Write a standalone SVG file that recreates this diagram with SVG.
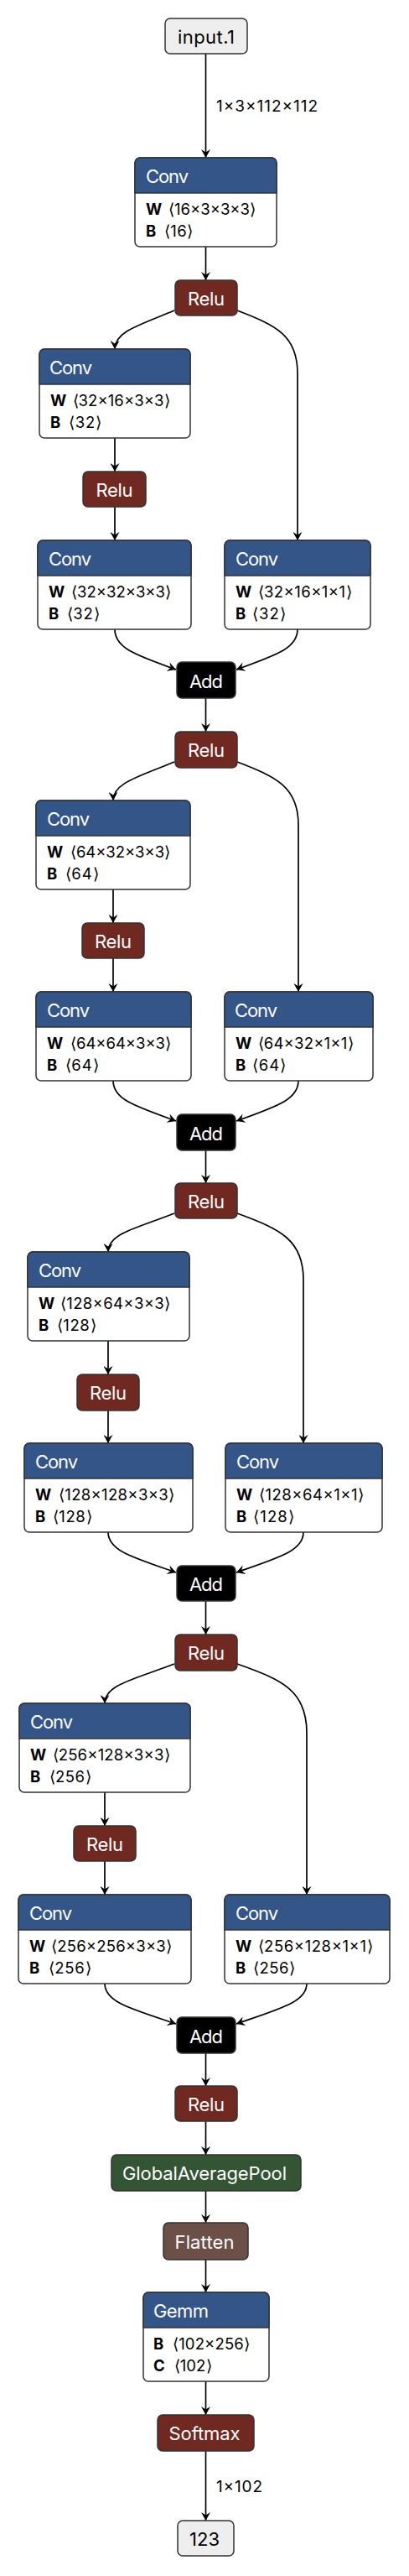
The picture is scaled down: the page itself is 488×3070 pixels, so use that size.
<svg xmlns="http://www.w3.org/2000/svg" width="488" height="3070" viewBox="0 0 488 3070">
<style>
.nb{fill:#fff;stroke:#333;stroke-width:1.5}
.io{fill:#eee;stroke:#333;stroke-width:1.5}
.conv{fill:#335588;stroke:#333;stroke-width:1.5}
.act{fill:#702921;stroke:#333;stroke-width:1.5}
.add{fill:#000;stroke:#333;stroke-width:1.5}
.pool{fill:#335533;stroke:#333;stroke-width:1.5}
.shape{fill:#6c4f47;stroke:#333;stroke-width:1.5}
text{font-family:Inter,"Liberation Sans",sans-serif}
.t{font-size:22px;fill:#fff}
.tc{font-size:22px;fill:#fff;text-anchor:middle}
.tk{font-size:22px;fill:#000;text-anchor:middle}
.n{font-size:18.5px;fill:#000;font-weight:bold}
.v{font-size:18.5px;fill:#000}
.e{font-size:19px;fill:#000}
.edges path{fill:none;stroke:#000;stroke-width:1.7;marker-end:url(#arr)}
</style>
<defs>
<marker id="arr" viewBox="0 0 10 11" refX="10" refY="5.5" markerWidth="10" markerHeight="11" markerUnits="userSpaceOnUse" orient="auto">
<path d="M0,0 L10,5.5 L0,11 L3.5,5.5 z" fill="#000"/>
</marker>
</defs>
<rect width="488" height="3070" fill="#fff"/>
<g class="edges">
<path d="M245.5,64 V188"/>
<path d="M245.5,294 V334"/>
<path d="M208,370 C165,388 137,395 137,416"/>
<path d="M283,370 C330,388 355,400 355,445 V644"/>
<path d="M137,522 V562"/>
<path d="M137,604 V644"/>
<path d="M137,750 C137,772 160,780 210,798"/>
<path d="M355,750 C355,772 332,780 282,798"/>
<path d="M245.5,832 V872"/>
<path d="M208,908 C165,926 135,933 135,954"/>
<path d="M283,908 C330,926 356,938 356,983 V1182"/>
<path d="M135,1060 V1100"/>
<path d="M135,1142 V1182"/>
<path d="M135,1288 C135,1310 160,1318 210,1336"/>
<path d="M356,1288 C356,1310 332,1318 282,1336"/>
<path d="M245.5,1371 V1410"/>
<path d="M208,1446 C160,1465 129,1470 129,1492"/>
<path d="M283,1446 C335,1465 362,1478 362,1525 V1720"/>
<path d="M129,1598 V1638"/>
<path d="M129,1681 V1720"/>
<path d="M129,1826 C129,1848 158,1856 210,1874"/>
<path d="M362,1826 C362,1848 334,1856 282,1874"/>
<path d="M245.5,1908 V1948"/>
<path d="M208,1983 C158,2002 125,2008 125,2030"/>
<path d="M283,1983 C337,2002 366,2015 366,2065 V2258"/>
<path d="M125,2136 V2176"/>
<path d="M125,2218 V2258"/>
<path d="M125,2364 C125,2386 156,2394 210,2412"/>
<path d="M366,2364 C366,2386 334,2394 282,2412"/>
<path d="M245.5,2447 V2486"/>
<path d="M245.5,2528 V2568"/>
<path d="M245.5,2611 V2649"/>
<path d="M245.5,2693 V2732"/>
<path d="M245.5,2838 V2878"/>
<path d="M245.5,2921 V3004"/>
<text class="e" x="258" y="133" textLength="121">1×3×112×112</text>
<text class="e" x="258" y="2970" textLength="55">1×102</text>
</g>
<g id="input_1"><rect class="io" x="197" y="22" width="98" height="42" rx="6"/><text class="tk" x="246" y="52" textLength="68">input.1</text></g>
<g id="conv1"><rect class="nb" x="161" y="188" width="169" height="106" rx="6"/><path class="conv" d="M161,230 v-36 a6,6 0 0 1 6,-6 h157 a6,6 0 0 1 6,6 v36 z"/><text class="t" x="174" y="218" textLength="51">Conv</text><text class="n" x="174" y="255.5">W</text><text class="v" x="201" y="255.5" textLength="104">⟨16×3×3×3⟩</text><text class="n" x="174" y="281.5">B</text><text class="v" x="196" y="281.5" textLength="34">⟨16⟩</text></g>
<g id="relu1"><rect class="act" x="209" y="334" width="74" height="42" rx="6"/><text class="tc" x="246" y="364" textLength="44">Relu</text></g>
<g id="conv2"><rect class="nb" x="47" y="416" width="180" height="106" rx="6"/><path class="conv" d="M47,458 v-36 a6,6 0 0 1 6,-6 h168 a6,6 0 0 1 6,6 v36 z"/><text class="t" x="59" y="446" textLength="51">Conv</text><text class="n" x="60" y="483.5">W</text><text class="v" x="86.5" y="483.5" textLength="116">⟨32×16×3×3⟩</text><text class="n" x="60" y="509.5">B</text><text class="v" x="82" y="509.5" textLength="39">⟨32⟩</text></g>
<g id="relu2"><rect class="act" x="99" y="562" width="75" height="42" rx="6"/><text class="tc" x="136.5" y="592" textLength="44">Relu</text></g>
<g id="conv3"><rect class="nb" x="45" y="644" width="183" height="106" rx="6"/><path class="conv" d="M45,686 v-36 a6,6 0 0 1 6,-6 h171 a6,6 0 0 1 6,6 v36 z"/><text class="t" x="58" y="674" textLength="51">Conv</text><text class="n" x="58" y="711.5">W</text><text class="v" x="85" y="711.5" textLength="119">⟨32×32×3×3⟩</text><text class="n" x="58" y="737.5">B</text><text class="v" x="79.5" y="737.5" textLength="39">⟨32⟩</text></g>
<g id="conv4"><rect class="nb" x="268" y="644" width="174" height="106" rx="6"/><path class="conv" d="M268,686 v-36 a6,6 0 0 1 6,-6 h162 a6,6 0 0 1 6,6 v36 z"/><text class="t" x="281" y="674" textLength="51">Conv</text><text class="n" x="281" y="711.5">W</text><text class="v" x="307.5" y="711.5" textLength="112">⟨32×16×1×1⟩</text><text class="n" x="281" y="737.5">B</text><text class="v" x="301" y="737.5" textLength="40">⟨32⟩</text></g>
<g id="add1"><rect class="add" x="211" y="789" width="70" height="43" rx="6"/><text class="tc" x="246" y="820" textLength="40">Add</text></g>
<g id="relu3"><rect class="act" x="209" y="872" width="74" height="43" rx="6"/><text class="tc" x="246" y="902" textLength="44">Relu</text></g>
<g id="conv5"><rect class="nb" x="43" y="954" width="184" height="106" rx="6"/><path class="conv" d="M43,996 v-36 a6,6 0 0 1 6,-6 h172 a6,6 0 0 1 6,6 v36 z"/><text class="t" x="56" y="984" textLength="51">Conv</text><text class="n" x="56" y="1021.5">W</text><text class="v" x="84" y="1021.5" textLength="119">⟨64×32×3×3⟩</text><text class="n" x="56" y="1047.5">B</text><text class="v" x="77.5" y="1047.5" textLength="40">⟨64⟩</text></g>
<g id="relu4"><rect class="act" x="98" y="1100" width="74" height="42" rx="6"/><text class="tc" x="135" y="1130" textLength="44">Relu</text></g>
<g id="conv6"><rect class="nb" x="43" y="1182" width="185" height="106" rx="6"/><path class="conv" d="M43,1224 v-36 a6,6 0 0 1 6,-6 h173 a6,6 0 0 1 6,6 v36 z"/><text class="t" x="56" y="1212" textLength="51">Conv</text><text class="n" x="56" y="1249.5">W</text><text class="v" x="84" y="1249.5" textLength="120">⟨64×64×3×3⟩</text><text class="n" x="56" y="1275.5">B</text><text class="v" x="77.5" y="1275.5" textLength="40">⟨64⟩</text></g>
<g id="conv7"><rect class="nb" x="268" y="1182" width="177" height="106" rx="6"/><path class="conv" d="M268,1224 v-36 a6,6 0 0 1 6,-6 h165 a6,6 0 0 1 6,6 v36 z"/><text class="t" x="280" y="1212" textLength="51">Conv</text><text class="n" x="281" y="1249.5">W</text><text class="v" x="307.5" y="1249.5" textLength="114">⟨64×32×1×1⟩</text><text class="n" x="281" y="1275.5">B</text><text class="v" x="301" y="1275.5" textLength="40">⟨64⟩</text></g>
<g id="add2"><rect class="add" x="211" y="1328" width="70" height="43" rx="6"/><text class="tc" x="246" y="1359" textLength="40">Add</text></g>
<g id="relu5"><rect class="act" x="209" y="1410" width="74" height="42" rx="6"/><text class="tc" x="246" y="1440" textLength="44">Relu</text></g>
<g id="conv8"><rect class="nb" x="33" y="1492" width="193" height="106" rx="6"/><path class="conv" d="M33,1534 v-36 a6,6 0 0 1 6,-6 h181 a6,6 0 0 1 6,6 v36 z"/><text class="t" x="46" y="1522" textLength="51">Conv</text><text class="n" x="46" y="1559.5">W</text><text class="v" x="72" y="1559.5" textLength="131">⟨128×64×3×3⟩</text><text class="n" x="46" y="1585.5">B</text><text class="v" x="67.5" y="1585.5" textLength="47">⟨128⟩</text></g>
<g id="relu6"><rect class="act" x="92" y="1638" width="74" height="43" rx="6"/><text class="tc" x="129" y="1668" textLength="44">Relu</text></g>
<g id="conv9"><rect class="nb" x="29" y="1720" width="201" height="106" rx="6"/><path class="conv" d="M29,1762 v-36 a6,6 0 0 1 6,-6 h189 a6,6 0 0 1 6,6 v36 z"/><text class="t" x="42" y="1750" textLength="51">Conv</text><text class="n" x="42" y="1787.5">W</text><text class="v" x="70" y="1787.5" textLength="138">⟨128×128×3×3⟩</text><text class="n" x="42" y="1813.5">B</text><text class="v" x="62.5" y="1813.5" textLength="47">⟨128⟩</text></g>
<g id="conv10"><rect class="nb" x="269" y="1720" width="187" height="106" rx="6"/><path class="conv" d="M269,1762 v-36 a6,6 0 0 1 6,-6 h175 a6,6 0 0 1 6,6 v36 z"/><text class="t" x="282" y="1750" textLength="51">Conv</text><text class="n" x="282" y="1787.5">W</text><text class="v" x="309" y="1787.5" textLength="125">⟨128×64×1×1⟩</text><text class="n" x="282" y="1813.5">B</text><text class="v" x="302" y="1813.5" textLength="49">⟨128⟩</text></g>
<g id="add3"><rect class="add" x="211" y="1866" width="70" height="42" rx="6"/><text class="tc" x="246" y="1896" textLength="40">Add</text></g>
<g id="relu7"><rect class="act" x="209" y="1948" width="74" height="43" rx="6"/><text class="tc" x="246" y="1978" textLength="44">Relu</text></g>
<g id="conv11"><rect class="nb" x="23" y="2030" width="204" height="106" rx="6"/><path class="conv" d="M23,2072 v-36 a6,6 0 0 1 6,-6 h192 a6,6 0 0 1 6,6 v36 z"/><text class="t" x="36" y="2060" textLength="51">Conv</text><text class="n" x="36" y="2097.5">W</text><text class="v" x="62.5" y="2097.5" textLength="140">⟨256×128×3×3⟩</text><text class="n" x="36" y="2123.5">B</text><text class="v" x="58.5" y="2123.5" textLength="50">⟨256⟩</text></g>
<g id="relu8"><rect class="act" x="88" y="2176" width="74" height="42" rx="6"/><text class="tc" x="125" y="2206" textLength="44">Relu</text></g>
<g id="conv12"><rect class="nb" x="22" y="2258" width="206" height="106" rx="6"/><path class="conv" d="M22,2300 v-36 a6,6 0 0 1 6,-6 h194 a6,6 0 0 1 6,6 v36 z"/><text class="t" x="35" y="2288" textLength="51">Conv</text><text class="n" x="35" y="2325.5">W</text><text class="v" x="61" y="2325.5" textLength="144">⟨256×256×3×3⟩</text><text class="n" x="35" y="2351.5">B</text><text class="v" x="57.5" y="2351.5" textLength="51">⟨256⟩</text></g>
<g id="conv13"><rect class="nb" x="268" y="2258" width="197" height="106" rx="6"/><path class="conv" d="M268,2300 v-36 a6,6 0 0 1 6,-6 h185 a6,6 0 0 1 6,6 v36 z"/><text class="t" x="281" y="2288" textLength="51">Conv</text><text class="n" x="281" y="2325.5">W</text><text class="v" x="307.5" y="2325.5" textLength="137">⟨256×128×1×1⟩</text><text class="n" x="281" y="2351.5">B</text><text class="v" x="302" y="2351.5" textLength="50">⟨256⟩</text></g>
<g id="add4"><rect class="add" x="211" y="2404" width="70" height="43" rx="6"/><text class="tc" x="246" y="2435" textLength="40">Add</text></g>
<g id="relu9"><rect class="act" x="209" y="2486" width="74" height="42" rx="6"/><text class="tc" x="246" y="2516" textLength="44">Relu</text></g>
<g id="gap"><rect class="pool" x="133" y="2568" width="226" height="43" rx="6"/><text class="tc" x="244" y="2598" textLength="196">GlobalAveragePool</text></g>
<g id="flatten"><rect class="shape" x="195" y="2649" width="101" height="44" rx="6"/><text class="tc" x="244" y="2680" textLength="71">Flatten</text></g>
<g id="gemm"><rect class="nb" x="171" y="2732" width="150" height="106" rx="6"/><path class="conv" d="M171,2774 v-36 a6,6 0 0 1 6,-6 h138 a6,6 0 0 1 6,6 v36 z"/><text class="t" x="183" y="2762" textLength="66">Gemm</text><text class="n" x="183" y="2799.5">B</text><text class="v" x="206" y="2799.5" textLength="92">⟨102×256⟩</text><text class="n" x="183" y="2825.5">C</text><text class="v" x="207.5" y="2825.5" textLength="45">⟨102⟩</text></g>
<g id="softmax"><rect class="act" x="188" y="2878" width="115" height="43" rx="6"/><text class="tc" x="244" y="2908" textLength="85">Softmax</text></g>
<g id="output_123"><rect class="io" x="212" y="3004" width="67" height="42" rx="6"/><text class="tk" x="244" y="3034" textLength="36">123</text></g>
</svg>
